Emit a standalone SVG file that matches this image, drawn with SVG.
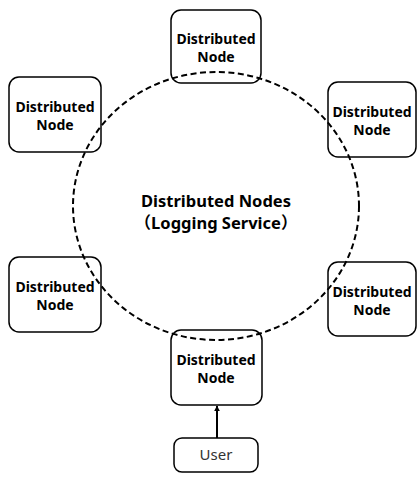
<svg xmlns="http://www.w3.org/2000/svg" width="417" height="477" viewBox="0 0 417 477">
  <style>
    .box { fill: #ffffff; stroke: #000000; stroke-width: 1.5; }
    .lbl { font-family: "Noto Sans", "Noto Sans CJK JP", sans-serif; font-weight: bold; font-size: 14px; fill: #000000; text-anchor: middle; }
    .title { font-family: "Noto Sans", "Noto Sans CJK JP", sans-serif; font-weight: bold; font-size: 16.5px; fill: #000000; text-anchor: middle; }
    .user { font-family: "Noto Sans", "Noto Sans CJK JP", sans-serif; font-size: 15px; fill: #333333; text-anchor: middle; }
    .ring { fill: none; stroke: #000000; stroke-width: 2; stroke-dasharray: 6 3.5; }
    .link { fill: none; stroke: #000000; stroke-width: 2; }
  </style>
  <defs>
    <marker id="arrow" viewBox="0 0 10 10" refX="9" refY="5" markerWidth="6" markerHeight="7" markerUnits="userSpaceOnUse" orient="auto">
      <path d="M0,0 L10,5 L0,10 z" fill="#000000"/>
    </marker>
  </defs>
  <rect width="417" height="477" fill="#ffffff"/>

  <!-- nodes -->
  <g id="node-top">
    <rect class="box" x="171" y="10" width="90" height="73" rx="10"/>
    <text class="lbl" x="216" y="44">Distributed</text>
    <text class="lbl" x="216" y="62">Node</text>
  </g>
  <g id="node-upper-left">
    <rect class="box" x="9" y="77" width="92" height="75" rx="10"/>
    <text class="lbl" x="55" y="112">Distributed</text>
    <text class="lbl" x="55" y="130">Node</text>
  </g>
  <g id="node-upper-right">
    <rect class="box" x="328" y="82" width="88" height="75" rx="10"/>
    <text class="lbl" x="372" y="117">Distributed</text>
    <text class="lbl" x="372" y="135">Node</text>
  </g>
  <g id="node-lower-left">
    <rect class="box" x="9" y="257" width="92" height="75" rx="10"/>
    <text class="lbl" x="55" y="292">Distributed</text>
    <text class="lbl" x="55" y="310">Node</text>
  </g>
  <g id="node-lower-right">
    <rect class="box" x="328" y="262" width="88" height="74" rx="10"/>
    <text class="lbl" x="372" y="297">Distributed</text>
    <text class="lbl" x="372" y="315">Node</text>
  </g>
  <g id="node-bottom">
    <rect class="box" x="171" y="330" width="91" height="75" rx="10"/>
    <text class="lbl" x="216" y="365">Distributed</text>
    <text class="lbl" x="216" y="383">Node</text>
  </g>
  <g id="user">
    <rect class="box" x="174" y="438" width="84" height="34" rx="8"/>
    <text class="user" x="216" y="460">User</text>
  </g>

  <!-- service ring caption -->
  <g id="service">
    <text class="title" x="216" y="207">Distributed Nodes</text>
    <text class="title" x="216" y="229">（Logging Service）</text>
  </g>

  <!-- connectors -->
  <g id="connectors">
    <ellipse class="ring" cx="216" cy="206" rx="143" ry="134"/>
    <line class="link" x1="217" y1="438" x2="217" y2="406" marker-end="url(#arrow)"/>
  </g>
</svg>
